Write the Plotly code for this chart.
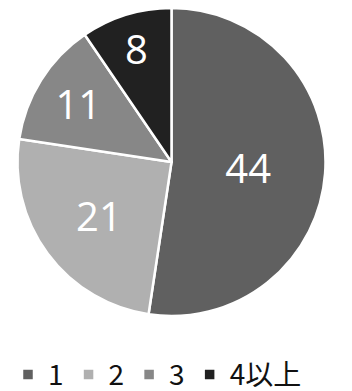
import plotly.graph_objects as go

labels = ["1", "2", "3", "4以上"]
values = [44, 21, 11, 8]
colors = ["#606060", "#b0b0b0", "#878787", "#212121"]

fig = go.Figure(go.Pie(
    labels=labels,
    values=values,
    sort=False,
    direction="clockwise",
    rotation=0,
    marker=dict(colors=colors, line=dict(color="white", width=2.5)),
    textinfo="value",
    textposition="inside",
    insidetextorientation="horizontal",
    textfont=dict(color="white", size=40, family="Open Sans"),
    hoverinfo="label+value",
))

fig.update_layout(
    width=352, height=391,
    margin=dict(l=9, r=34, t=0, b=83),
    paper_bgcolor="white",
    plot_bgcolor="white",
    showlegend=True,
    uniformtext=dict(minsize=40, mode="show"),
    legend=dict(
        orientation="h",
        xref="container", yref="container",
        x=-0.015, xanchor="left",
        y=0.062, yanchor="middle",
        font=dict(size=28, color="#111111", family="Noto Sans CJK JP"),
        itemwidth=30,
        traceorder="normal",
    ),
)

fig.write_html("out.html")
